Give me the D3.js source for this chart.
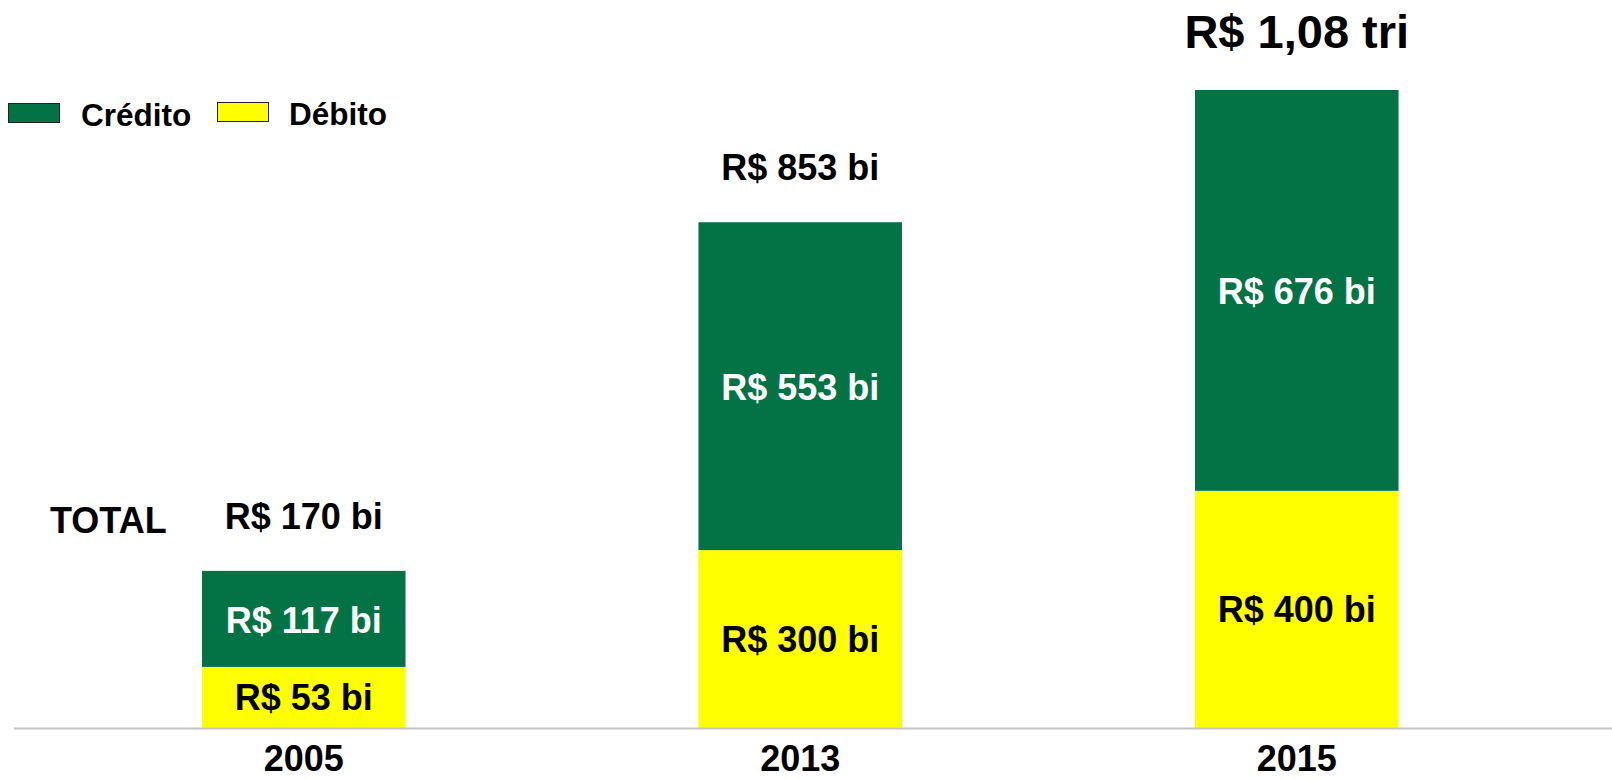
<!DOCTYPE html>
<html>
<head>
<meta charset="utf-8">
<script src="https://cdn.jsdelivr.net/npm/d3@7"></script>
<style>
  body { margin: 0; background: #fff; }
  text { font-family: "Liberation Sans", Arial, sans-serif; font-weight: bold; }
</style>
</head>
<body>
<div id="chart"></div>
<script>
// anos e rótulos
let anos = ["2005", "2013", "2015"]
let rotuloDebito = ["R$ 53 bi", "R$ 300 bi", "R$ 400 bi"]
let rotuloCredito = ["R$ 117 bi", "R$ 553 bi", "R$ 676 bi"]
let rotuloTotal = ["R$ 170 bi", "R$ 853 bi", "R$ 1,08 tri"]

// altura das barras (em R$ bi); a barra de 2005 está fora de escala no original
let debito = [103, 300, 400]
let credito = [162, 553, 676]

let corCredito = "#037346"
let corDebito = "#ffff00"

let width = 1612
let height = 779
let base = 728

let svg = d3.select("#chart").append("svg")
    .attr("width", width)
    .attr("height", height)

let x = d3.scaleBand()
    .domain(anos)
    .range([53, 1547.5])
    .paddingInner(0.59)
    .paddingOuter(0.3)

let totais = anos.map(function (a, i) { return debito[i] + credito[i] })

let y = d3.scaleLinear()
    .domain([0, d3.max(totais)])
    .range([base, 90])

let dados = anos.map(function (a, i) {
    return { ano: a, deb: debito[i], cred: credito[i], tot: totais[i], i: i }
})

// barras débito
svg.selectAll(".deb")
    .data(dados)
    .enter().append("rect")
    .attr("class", "deb")
    .attr("x", function (d) { return x(d.ano) })
    .attr("width", x.bandwidth())
    .attr("y", function (d) { return y(d.deb) })
    .attr("height", function (d) { return y(0) - y(d.deb) })
    .attr("fill", corDebito)

// barras crédito
svg.selectAll(".cred")
    .data(dados)
    .enter().append("rect")
    .attr("class", "cred")
    .attr("x", function (d) { return x(d.ano) })
    .attr("width", x.bandwidth())
    .attr("y", function (d) { return y(d.tot) })
    .attr("height", function (d) { return y(d.deb) - y(d.tot) })
    .attr("fill", corCredito)

// linha do eixo
svg.append("line")
    .attr("x1", 14).attr("x2", width)
    .attr("y1", base + 0.5).attr("y2", base + 0.5)
    .attr("stroke", "#c4c4c4")
    .attr("stroke-width", 2)

// anos
svg.selectAll(".ano")
    .data(dados)
    .enter().append("text")
    .attr("x", function (d) { return x(d.ano) + x.bandwidth() / 2 })
    .attr("y", 771)
    .attr("text-anchor", "middle")
    .style("font-size", "36px")
    .attr("fill", "#000")
    .text(function (d) { return d.ano })

// rótulos débito
svg.selectAll(".rdeb")
    .data(dados)
    .enter().append("text")
    .attr("x", function (d) { return x(d.ano) + x.bandwidth() / 2 })
    .attr("y", function (d) { return (y(0) + y(d.deb)) / 2 + 13 })
    .attr("text-anchor", "middle")
    .style("font-size", "36px")
    .attr("fill", "#000")
    .text(function (d) { return rotuloDebito[d.i] })

// rótulos crédito
svg.selectAll(".rcred")
    .data(dados)
    .enter().append("text")
    .attr("x", function (d) { return x(d.ano) + x.bandwidth() / 2 })
    .attr("y", function (d) { return (y(d.deb) + y(d.tot)) / 2 + 14 })
    .attr("text-anchor", "middle")
    .style("font-size", "36px")
    .attr("fill", "#fff")
    .text(function (d) { return rotuloCredito[d.i] })

// totais
svg.selectAll(".rtot")
    .data(dados)
    .enter().append("text")
    .attr("x", function (d) { return x(d.ano) + x.bandwidth() / 2 })
    .attr("y", function (d) { return y(d.tot) - 42 })
    .attr("text-anchor", "middle")
    .style("font-size", function (d) { return d.i == 2 ? "47px" : "36px" })
    .attr("fill", "#000")
    .text(function (d) { return rotuloTotal[d.i] })

svg.append("text")
    .attr("x", 50)
    .attr("y", 533)
    .style("font-size", "36px")
    .attr("fill", "#000")
    .text("TOTAL")

// legenda
let legenda = [
    { nome: "Crédito", cor: corCredito, rx: 8, ry: 103, tx: 81, ty: 126 },
    { nome: "Débito", cor: corDebito, rx: 217, ry: 102, tx: 289, ty: 125 }
]
svg.selectAll(".legR")
    .data(legenda)
    .enter().append("rect")
    .attr("x", function (d) { return d.rx + 0.5 })
    .attr("y", function (d) { return d.ry + 0.5 })
    .attr("width", 51)
    .attr("height", 19)
    .attr("fill", function (d) { return d.cor })
    .attr("stroke", "#222")
    .attr("stroke-width", 1)
svg.selectAll(".legT")
    .data(legenda)
    .enter().append("text")
    .attr("x", function (d) { return d.tx })
    .attr("y", function (d) { return d.ty })
    .style("font-size", "31.5px")
    .attr("fill", "#000")
    .text(function (d) { return d.nome })
</script>
</body>
</html>
